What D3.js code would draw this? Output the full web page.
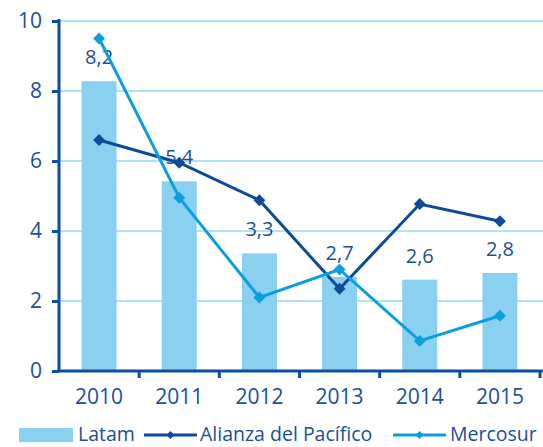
<!DOCTYPE html>
<html>
<head>
<meta charset="utf-8">
<script src="https://cdn.jsdelivr.net/npm/d3@7"></script>
<style>
  body { margin: 0; background: #fff; }
  svg { display: block; font-family: "Open Sans", sans-serif; }
</style>
</head>
<body>
<script>
const width = 543, height = 447;

// data
const years = ['2010', '2011', '2012', '2013', '2014', '2015'];
const latam = [8.28, 5.42, 3.36, 2.69, 2.61, 2.8];
const latamLabels = ['8,2', '5,4', '3,3', '2,7', '2,6', '2,8'];
const alianza = [6.6, 5.95, 4.88, 2.35, 4.77, 4.28];
const mercosur = [9.5, 4.95, 2.1, 2.9, 0.86, 1.58];
const yTicks = [0, 2, 4, 6, 8, 10];

const textColor = '#1a4f9c';
const axisColor = '#0d4ea0';
const gridColor = '#b3e3f7';
const barColor = '#8ad0f0';
const alianzaColor = '#0d4a9a';
const mercosurColor = '#0aa0e0';

const margin = {top: 21, right: 3, bottom: 76, left: 59};

const xb = d3.scaleBand().domain(years).range([margin.left, 540]);

const y = d3.scaleLinear()
    .domain([0, 10])
    .range([height - margin.bottom, margin.top]);

const svg = d3.select('body').append('svg')
    .attr('width', width)
    .attr('height', height);

// gridlines
svg.append('g')
    .selectAll('line')
    .data(yTicks.filter(d => d > 0))
    .join('line')
    .attr('x1', margin.left)
    .attr('x2', width)
    .attr('y1', d => y(d))
    .attr('y2', d => y(d))
    .attr('stroke', gridColor)
    .attr('stroke-width', 2);

const cx = i => xb(years[i]) + xb.bandwidth() / 2;

// bars
svg.append('g')
    .selectAll('rect')
    .data(latam)
    .join('rect')
    .attr('x', (d, i) => cx(i) - 17.5)
    .attr('width', 35)
    .attr('y', d => y(d))
    .attr('height', d => y(0) - y(d))
    .attr('fill', barColor);

// bar labels
svg.append('g')
    .selectAll('text')
    .data(latam)
    .join('text')
    .attr('x', (d, i) => cx(i))
    .attr('y', d => y(d) - 17)
    .attr('text-anchor', 'middle')
    .attr('fill', textColor)
    .attr('font-size', 20)
    .text((d, i) => latamLabels[i]);

const line = d3.line().x((d, i) => cx(i)).y(d => y(d));
const diamond = d3.symbol().type(d3.symbolDiamond2).size(90);

function drawSeries(values, color) {
  const g = svg.append('g');
  g.append('path')
      .datum(values)
      .attr('d', line)
      .attr('fill', 'none')
      .attr('stroke', color)
      .attr('stroke-width', 3);
  g.selectAll('path.pt')
      .data(values)
      .join('path')
      .attr('class', 'pt')
      .attr('d', diamond)
      .attr('transform', (d, i) => `translate(${cx(i)},${y(d)})`)
      .attr('fill', color);
}

drawSeries(alianza, alianzaColor);
drawSeries(mercosur, mercosurColor);

// y axis
const yAxis = svg.append('g')
    .attr('transform', `translate(${margin.left},0)`)
    .call(d3.axisLeft(y).tickValues(yTicks).tickSize(7).tickPadding(10).tickFormat(d3.format('d')));
yAxis.select('.domain').attr('stroke', axisColor).attr('stroke-width', 3)
    .attr('d', `M0,${margin.top - 2}V${y(0)}`);
yAxis.selectAll('.tick line').attr('stroke', axisColor).attr('stroke-width', 3);
yAxis.selectAll('.tick text').attr('fill', textColor).attr('font-size', 21)
    .attr('font-family', '"Open Sans", sans-serif');

// x axis
const xAxis = svg.append('g')
    .attr('transform', `translate(0,${y(0)})`);
xAxis.append('line')
    .attr('x1', margin.left - 1.5)
    .attr('x2', width)
    .attr('stroke', axisColor)
    .attr('stroke-width', 3);
xAxis.selectAll('line.tk')
    .data(years)
    .join('line')
    .attr('class', 'tk')
    .attr('x1', d => xb(d) + xb.bandwidth())
    .attr('x2', d => xb(d) + xb.bandwidth())
    .attr('y1', 0)
    .attr('y2', 7)
    .attr('stroke', axisColor)
    .attr('stroke-width', 3);
xAxis.selectAll('text')
    .data(years)
    .join('text')
    .attr('x', d => xb(d) + xb.bandwidth() / 2)
    .attr('y', 33)
    .attr('text-anchor', 'middle')
    .attr('fill', textColor)
    .attr('font-size', 21)
    .text(d => d);

// legend
const legend = svg.append('g').attr('font-size', 19.5).attr('fill', textColor);
legend.append('rect')
    .attr('x', 19).attr('y', 428).attr('width', 54).attr('height', 14)
    .attr('fill', barColor);
legend.append('text').attr('x', 78).attr('y', 441).text('Latam');

const legendLines = [
  {name: 'Alianza del Pacífico', color: alianzaColor, x0: 144, x1: 197, tx: 200},
  {name: 'Mercosur', color: mercosurColor, x0: 393, x1: 446, tx: 450}
];
legendLines.forEach(l => {
  legend.append('line')
      .attr('x1', l.x0).attr('x2', l.x1)
      .attr('y1', 435).attr('y2', 435)
      .attr('stroke', l.color).attr('stroke-width', 3);
  legend.append('path')
      .attr('d', d3.symbol().type(d3.symbolDiamond2).size(40))
      .attr('transform', `translate(${(l.x0 + l.x1) / 2},435)`)
      .attr('fill', l.color);
  legend.append('text').attr('x', l.tx).attr('y', 441).text(l.name);
});
</script>
</body>
</html>
